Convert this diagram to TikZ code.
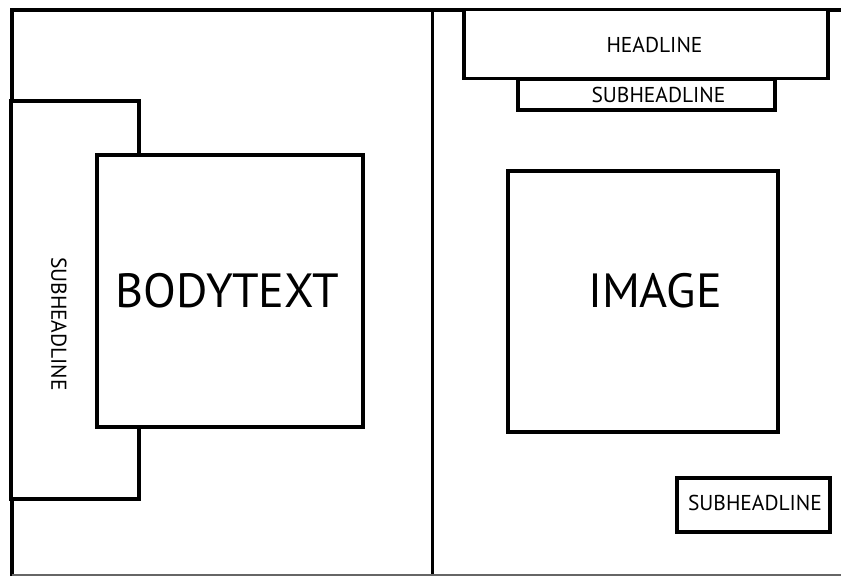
\documentclass[tikz,border=0pt]{standalone}
\usepackage{fontspec}
\setmainfont{PT Sans}
\usetikzlibrary{positioning}

\begin{document}
\begin{tikzpicture}[x=1pt,y=-1pt,
    every node/.style={inner sep=0pt,outer sep=0pt},
    frame/.style={line width=3.5pt},
    panel/.style={draw,line width=3.5pt,fill=white},
    label/.style={font=\fontsize{21.5}{21.5}\selectfont},
    biglabel/.style={font=\fontsize{48}{48}\selectfont}]
    \useasboundingbox (0,0) rectangle (841,576);
    % page frame and fold
    \coordinate (topleft) at (12,10);
    \coordinate (topright) at (841,10);
    \coordinate (botleft) at (12,576);
    \coordinate (foldtop) at (432,10);
    \coordinate (foldbot) at (432,576);
    \draw[frame] (botleft) -- (topleft) -- (topright);
    \draw[frame, line width=3pt] (foldtop) -- (foldbot);
    \draw[line width=1.5pt, black!60] (12,575) -- (841,575);
    % left page
    \node[panel, minimum width=128pt, minimum height=398pt] (sidebox) at (75,300) {};
    \node[label, rotate=-90] (sidehead) at (59,324) {SUBHEADLINE};
    \node[panel, minimum width=266pt, minimum height=272pt] (body) at (230,291) {};
    \node[biglabel] (bodytext) at (227.5,290.5) {BODYTEXT};
    % right page
    \node[panel, minimum width=364pt, minimum height=69pt] (headline) at (646,44) {};
    \node[label] (headtext) at (654.5,45) {HEADLINE};
    \node[panel, minimum width=257pt, minimum height=31pt] (subhead) at (646.5,94.5) {};
    \node[label] (subtext) at (658.5,95) {SUBHEADLINE};
    \node[panel, minimum width=270pt, minimum height=261pt] (image) at (643,301.5) {};
    \node[biglabel] (imagetext) at (655,290.5) {IMAGE};
    \node[panel, line width=4.5pt, minimum width=153pt, minimum height=54pt] (caption) at (753.5,505) {};
    \node[label] (captext) at (755,503) {SUBHEADLINE};
  \end{tikzpicture}
\end{document}
